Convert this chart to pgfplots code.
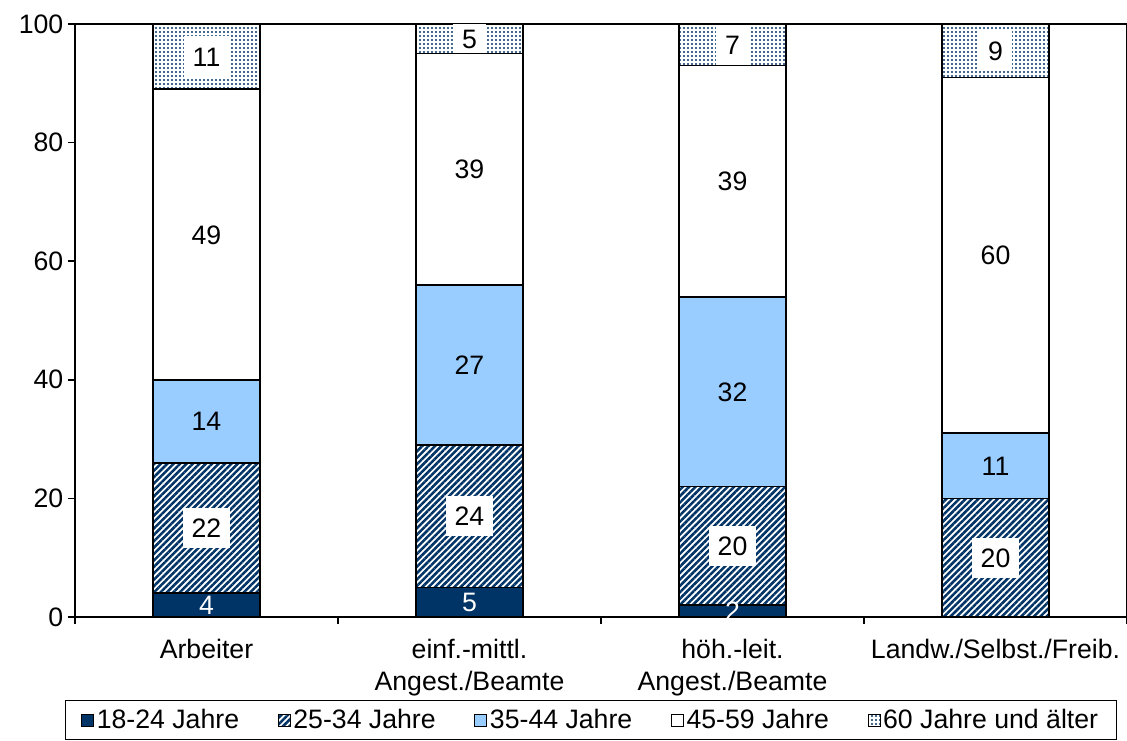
\documentclass[border=0pt]{standalone}
\usepackage{pgfplots}
\pgfplotsset{compat=1.18}
\usepackage{fontspec}
\setmainfont{Liberation Sans}
\usetikzlibrary{patterns.meta}

\definecolor{navy}{RGB}{0,51,102}
\definecolor{lightblue}{RGB}{153,204,255}

\newcommand{\chartfont}{\fontsize{20}{24.5}\selectfont}

\tikzset{boxed label/.style={fill=white, inner xsep=6.5pt, inner ysep=8pt}}

\pgfplotsset{
  /pgf/number format/assume math mode=true,
  segment label/.style={
    nodes near coords={\pgfmathfloatifflags{\pgfplotspointmeta}{0}{}{\pgfmathprintnumber{\pgfplotspointmeta}}},
    visualization depends on=rawy \as \rawy,
    every node near coord/.append style={anchor=center,
      text height=14.3pt, text depth=0pt, inner sep=0pt, font=\chartfont, #1},
  },
  sq legend/.style={legend image code/.code={
    \draw[##1, line width=0.7pt] (0pt,-4.5pt) rectangle (9pt,4.5pt);}},
}

\begin{document}
\begin{tikzpicture}
\useasboundingbox (-56.25pt,-92.25pt) rectangle (789pt,462.75pt);
\begin{axis}[
  scale only axis,
  width=789pt, height=444.75pt,
  ybar stacked,
  bar width=0.407,
  xmin=-0.5, xmax=3.5,
  ymin=0, ymax=100,
  ytick={0,20,40,60,80,100},
  xtick={0,1,2,3},
  xticklabels={Arbeiter, {einf.-mittl.\\Angest./Beamte}, {höh.-leit.\\Angest./Beamte}, Landw./Selbst./Freib.},
  minor xtick={-0.5,0.5,1.5,2.5,3.5},
  major x tick style={draw=none},
  tick align=outside,
  tick pos=left,
  major tick length=5.25pt,
  minor tick length=5.25pt,
  every tick/.append style={black, line width=1.1pt},
  axis line style={line width=1.2pt},
  every tick label/.append style={font=\chartfont},
  x tick label style={align=center, yshift=-7.5pt},
  legend columns=-1,
  legend style={
    at={(axis description cs:0.4905,0)}, anchor=north, yshift=-62.25pt,
    draw=black, line width=1pt, font=\chartfont,
    inner xsep=12pt, inner ysep=4.5pt,
    /tikz/every even column/.append style={column sep=27pt},
  },
  every axis plot/.append style={draw=black, line width=1.2pt},
]
\addplot[fill=navy, sq legend, segment label={text=white}]
  coordinates {(0,4) (1,5) (2,2) (3,0)};
\addplot[pattern={Lines[angle=45,distance=3.4pt,line width=1.9pt]}, pattern color=navy, sq legend, segment label={boxed label}]
  coordinates {(0,22) (1,24) (2,20) (3,20)};
\addplot[fill=lightblue, sq legend, segment label={}]
  coordinates {(0,14) (1,27) (2,32) (3,11)};
\addplot[fill=white, sq legend, segment label={}]
  coordinates {(0,49) (1,39) (2,39) (3,60)};
\addplot[pattern={Dots[distance=3pt,radius=0.9pt]}, pattern color=navy, sq legend,
  segment label={boxed label, inner ysep={min(8pt,\rawy*2.22375pt-7.5pt)}}]
  coordinates {(0,11) (1,5) (2,7) (3,9)};
\legend{18-24 Jahre, 25-34 Jahre, 35-44 Jahre, 45-59 Jahre, 60 Jahre und älter}
\end{axis}
\end{tikzpicture}
\end{document}
